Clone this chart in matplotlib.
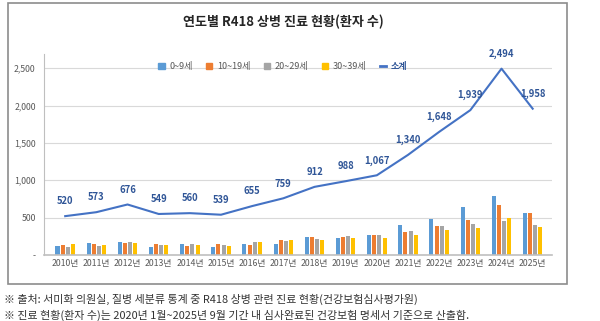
import matplotlib.pyplot as plt
import numpy as np
from matplotlib.patches import Rectangle
from matplotlib.lines import Line2D
from matplotlib.patches import Patch

plt.rcParams['font.family'] = ['Noto Sans CJK KR', 'DejaVu Sans']
plt.rcParams['axes.unicode_minus'] = False

years = ['2010년', '2011년', '2012년', '2013년', '2014년', '2015년', '2016년', '2017년',
         '2018년', '2019년', '2020년', '2021년', '2022년', '2023년', '2024년', '2025년']
age_0_9 = [117, 161, 170, 109, 144, 109, 144, 152, 235, 222, 265, 405, 487, 640, 792, 566]
age_10_19 = [139, 144, 161, 152, 126, 144, 135, 196, 235, 239, 274, 313, 387, 470, 674, 561]
age_20_29 = [109, 126, 170, 135, 144, 135, 178, 191, 218, 257, 265, 322, 387, 413, 461, 396]
age_30_39 = [144, 135, 161, 135, 135, 126, 178, 200, 204, 230, 222, 265, 339, 365, 500, 370]
subtotal = [520, 573, 676, 549, 560, 539, 655, 759, 912, 988, 1067, 1340, 1648, 1939, 2494, 1958]

series_names = ['0~9세', '10~19세', '20~29세', '30~39세']
bar_colors = ['#5B9BD5', '#ED7D31', '#A5A5A5', '#FFC000']
line_color = '#4472C4'
label_color = '#2F5597'

fig = plt.figure(figsize=(6.0, 3.21), dpi=100)
# 차트 테두리
fig.patches.append(Rectangle((8 / 600, 1 - 284 / 321), 559 / 600, 281 / 321,
                             transform=fig.transFigure, fill=False,
                             edgecolor='#8c8c8c', linewidth=1.2))

ax = fig.add_axes([44 / 600, 1 - 255 / 321, 508 / 600, 201 / 321])

x = np.arange(len(years))
step = 0.165
bw = 0.13
for i, (vals, col) in enumerate(zip([age_0_9, age_10_19, age_20_29, age_30_39], bar_colors)):
    ax.bar(x + (i - 1.5) * step, vals, width=bw, color=col, zorder=2)

ax.plot(x, subtotal, color=line_color, linewidth=1.5, zorder=3)
for xi, v in zip(x, subtotal):
    ax.annotate(f'{v:,}', (xi, v), xytext=(0, 7), textcoords='offset points',
                ha='center', va='bottom', fontsize=6.8, fontweight='bold',
                color=label_color, zorder=4)

ax.set_xlim(-0.68, 15.62)
ax.set_ylim(0, 2690)
ax.set_yticks([0, 500, 1000, 1500, 2000, 2500])
ax.set_yticklabels(['-', '500', '1,000', '1,500', '2,000', '2,500'])
ax.set_xticks(x)
ax.set_xticklabels(years)
ax.tick_params(axis='both', length=0, labelsize=6.3, colors='#595959')
ax.tick_params(axis='x', pad=3)
ax.tick_params(axis='y', pad=6)
ax.grid(axis='y', color='#d9d9d9', linewidth=0.8, zorder=0)
for s in ['top', 'right']:
    ax.spines[s].set_visible(False)
ax.spines['left'].set_color('#bfbfbf')
ax.spines['bottom'].set_color('#bfbfbf')
ax.spines['bottom'].set_linewidth(1.2)

handles = [Patch(color=c) for c in bar_colors] + [Line2D([], [], color=line_color, linewidth=2)]
leg = ax.legend(handles, series_names + ['소계'], loc='upper center', bbox_to_anchor=(0.47, 1.0),
                ncol=5, frameon=False, fontsize=6.5, handlelength=0.7, handleheight=0.7,
                columnspacing=1.5, handletextpad=0.5)
for t in leg.get_texts():
    t.set_color('#595959')
leg.get_texts()[-1].set_color(label_color)
leg.get_texts()[-1].set_fontweight('bold')

fig.text(283 / 600, 1 - 22 / 321, '연도별 R418 상병 진료 현황(환자 수)', ha='center', va='center',
         fontsize=9.4, fontweight='bold', color='#262626')

fig.text(4 / 600, 1 - 299 / 321,
         '※ 출처: 서미화 의원실, 질병 세분류 통계 중 R418 상병 관련 진료 현황(건강보험심사평가원)',
         ha='left', va='center', fontsize=7.9, color='#333333')
fig.text(4 / 600, 1 - 315 / 321,
         '※ 진료 현황(환자 수)는 2020년 1월~2025년 9월 기간 내 심사완료된 건강보험 명세서 기준으로 산출함.',
         ha='left', va='center', fontsize=7.9, color='#333333')

fig.savefig('out.png', dpi=100)
